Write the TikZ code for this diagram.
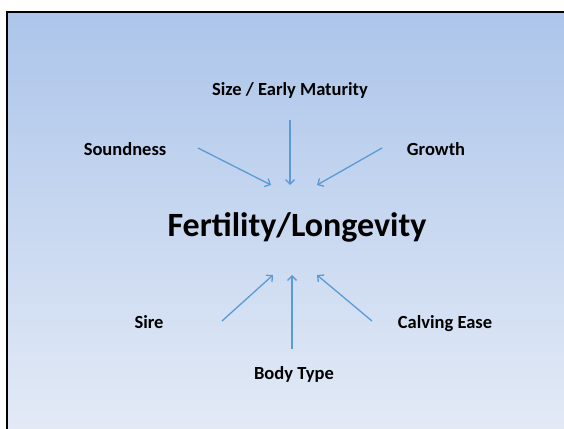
\documentclass[tikz,border=0pt]{standalone}
\usepackage{fontspec}
\setmainfont{Carlito}
\usetikzlibrary{arrows.meta}

\begin{document}
\begin{tikzpicture}[x=1pt,y=-1pt]
  \definecolor{slideTop}{RGB}{172,197,234}
  \definecolor{slideBot}{RGB}{227,234,246}
  \definecolor{arrowBlue}{RGB}{91,155,213}
  \tikzset{
    factor/.style={anchor=base, font=\bfseries\fontsize{18.5}{20}\selectfont},
    goal/.style={anchor=base, font=\bfseries\fontsize{34}{38}\selectfont},
    push/.style={arrowBlue, line width=1.3pt, -{Straight Barb[length=4.5pt,width=9pt]}}
  }
  \useasboundingbox (0,0) rectangle (564,428);

  %--- Slide background and edge ---
  \shade[top color=slideTop, bottom color=slideBot] (7,12) rectangle (564,428);
  \draw[line width=2.2pt] (7,429) -- (7,12) -- (565,12);

  %--- Centre ---
  \node[goal] (fert) at (297,236) {Fertility/Longevity};

  %--- Factors above ---
  \node[factor] (size)  at (290,95)  {Size / Early Maturity};
  \node[factor] (sound) at (125,155) {Soundness};
  \node[factor] (grow)  at (436,155) {Growth};

  %--- Factors below ---
  \node[factor] (sire)  at (149,328) {Sire};
  \node[factor] (body)  at (294,379) {Body Type};
  \node[factor] (calve) at (445,328) {Calving Ease};

  %--- Arrow ends ---
  \coordinate (sizeS)  at (290,120); \coordinate (sizeE)  at (290,185);
  \coordinate (soundS) at (198,148); \coordinate (soundE) at (271,185);
  \coordinate (growS)  at (382,148); \coordinate (growE)  at (317,185);
  \coordinate (sireS)  at (222,321); \coordinate (sireE)  at (273,275);
  \coordinate (bodyS)  at (292,349); \coordinate (bodyE)  at (292,275);
  \coordinate (calveS) at (372,321); \coordinate (calveE) at (317,275);

  %--- Arrows ---
  \foreach \f in {size,sound,grow,sire,body,calve} {
    \draw[push] (\f S) -- (\f E);
  }
\end{tikzpicture}
\end{document}
